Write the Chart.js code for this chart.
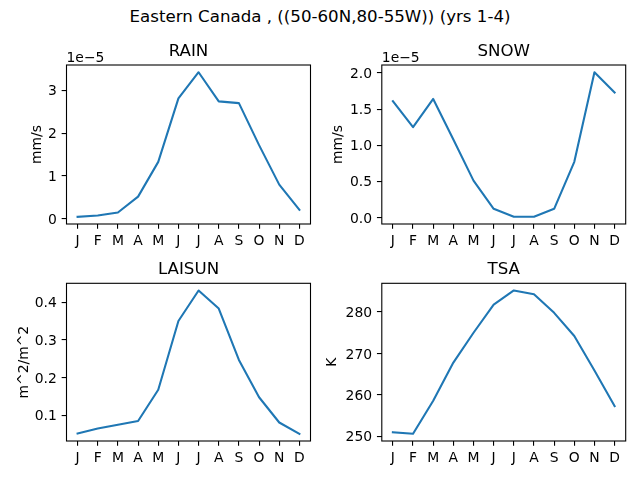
<!DOCTYPE html>
<html><head><meta charset="utf-8">
<script src="https://cdn.jsdelivr.net/npm/chart.js@4.4.1/dist/chart.umd.min.js"></script>
<style>
html,body{margin:0;padding:0;background:#fff;width:640px;height:480px;overflow:hidden}
canvas{position:absolute;left:0;top:0}
#suptitle{position:absolute;left:0;top:6.5px;width:640px;text-align:center;font:16.67px/20px "DejaVu Sans";color:#000;white-space:pre}
</style></head><body>
<div id="suptitle">Eastern Canada , ((50-60N,80-55W)) (yrs 1-4)</div>
<canvas id="cRain" width="640" height="480"></canvas>
<canvas id="cSnow" width="640" height="480"></canvas>
<canvas id="cLai" width="640" height="480"></canvas>
<canvas id="cTsa" width="640" height="480"></canvas>
<script>
// ---- data ----
const months = ['J','F','M','A','M','J','J','A','S','O','N','D'];
// RAIN and SNOW in units of 1e-5 mm/s
const rainValues = [0.05, 0.08, 0.15, 0.52, 1.33, 2.81, 3.42, 2.74, 2.70, 1.72, 0.80, 0.21];
const snowValues = [1.61, 1.25, 1.64, 1.08, 0.51, 0.12, 0.01, 0.01, 0.12, 0.77, 2.01, 1.73];
const laisunValues = [0.052, 0.065, 0.075, 0.085, 0.168, 0.350, 0.431, 0.383, 0.247, 0.148, 0.081, 0.051];
const tsaValues = [251.0, 250.6, 258.6, 267.8, 275.0, 281.8, 285.2, 284.3, 279.8, 274.2, 265.9, 257.3];

const rainTicks = [0, 1, 2, 3];
const rainTickLabels = ['0', '1', '2', '3'];
const snowTicks = [0, 0.5, 1.0, 1.5, 2.0];
const snowTickLabels = ['0.0', '0.5', '1.0', '1.5', '2.0'];
const laisunTicks = [0.1, 0.2, 0.3, 0.4];
const laisunTickLabels = ['0.1', '0.2', '0.3', '0.4'];
const tsaTicks = [250, 260, 270, 280];
const tsaTickLabels = ['250', '260', '270', '280'];

const FONT = 'DejaVu Sans';
const LINE_COLOR = '#1f77b4';

const framePlugin = {
  id: 'frame',
  afterDraw(chart, args, opts) {
    const {ctx, chartArea: a} = chart;
    ctx.save();
    ctx.strokeStyle = '#000';
    ctx.lineWidth = 1.1;
    ctx.strokeRect(a.left, a.top, a.right - a.left, a.bottom - a.top);
    if (opts && opts.offsetText) {
      ctx.fillStyle = '#000';
      ctx.font = '13.9px "' + FONT + '"';
      ctx.textAlign = 'left';
      ctx.textBaseline = 'alphabetic';
      ctx.fillText(opts.offsetText, a.left, a.top - 3.5);
    }
    ctx.restore();
  }
};

function makeChart(id, s) {
  const lo = Math.min(...s.values), hi = Math.max(...s.values);
  const m = (hi - lo) * 0.05;
  const W = 60, H = 30;
  new Chart(document.getElementById(id), {
    type: 'line',
    data: {
      datasets: [{
        data: s.values.map((v, i) => ({x: i, y: v})),
        borderColor: LINE_COLOR,
        borderWidth: 2.08,
        pointRadius: 0,
        tension: 0,
        fill: false,
        borderJoinStyle: 'round',
        borderCapStyle: 'square'
      }]
    },
    options: {
      responsive: false,
      animation: false,
      events: [],
      layout: {padding: {left: s.L - W, right: 640 - s.R, top: s.titleTop, bottom: 480 - s.B - H}},
      plugins: {
        legend: {display: false},
        tooltip: {enabled: false},
        title: {
          display: true, text: s.title, fullSize: false, color: '#000',
          font: {family: FONT, size: 16.67, weight: 'normal', lineHeight: 1.2},
          padding: {top: 0, bottom: s.T - s.titleTop - 20}
        },
        frame: {offsetText: s.offsetText}
      },
      scales: {
        x: {
          type: 'linear', min: -0.55, max: months.length - 1 + 0.55,
          afterBuildTicks: sc => { sc.ticks = months.map((mm, i) => ({value: i})); },
          afterFit: sc => { sc.height = H; },
          grid: {display: true, drawOnChartArea: false, drawTicks: true, tickLength: 4.86, color: '#000', lineWidth: 1.1},
          border: {display: false},
          ticks: {color: '#000', font: {family: FONT, size: 13.9}, padding: 3.9, autoSkip: false, maxRotation: 0,
                  callback: v => months[v]}
        },
        y: {
          type: 'linear', min: lo - m, max: hi + m,
          afterBuildTicks: sc => { sc.ticks = s.ticks.map(v => ({value: v})); },
          afterFit: sc => { sc.width = W; },
          grid: {display: true, drawOnChartArea: false, drawTicks: true, tickLength: 4.86, color: '#000', lineWidth: 1.1},
          border: {display: false},
          ticks: {color: '#000', font: {family: FONT, size: 13.9}, padding: 4.86, labelOffset: 1.5,
                  callback: (v, i) => s.tickLabels[i]},
          title: {display: true, text: s.ylabel, color: '#000', font: {family: FONT, size: 13.9, lineHeight: 1.2},
                  padding: {top: s.ylabelMid - (s.L - W) - 8.34, bottom: 0}}
        }
      }
    },
    plugins: [framePlugin]
  });
}

makeChart('cRain', {title: 'RAIN', values: rainValues, ticks: rainTicks, tickLabels: rainTickLabels,
  ylabel: 'mm/s', offsetText: '1e\u22125', L: 66.5, R: 310.5, T: 65, B: 224, titleTop: 41.75, ylabelMid: 37.3});
makeChart('cSnow', {title: 'SNOW', values: snowValues, ticks: snowTicks, tickLabels: snowTickLabels,
  ylabel: 'mm/s', offsetText: '1e\u22125', L: 381.8, R: 625.7, T: 65, B: 224, titleTop: 41.75, ylabelMid: 338.6});
makeChart('cLai', {title: 'LAISUN', values: laisunValues, ticks: laisunTicks, tickLabels: laisunTickLabels,
  ylabel: 'm^2/m^2', L: 66.5, R: 310.5, T: 283.3, B: 441, titleTop: 260.05, ylabelMid: 23.9});
makeChart('cTsa', {title: 'TSA', values: tsaValues, ticks: tsaTicks, tickLabels: tsaTickLabels,
  ylabel: 'K', L: 381.8, R: 625.7, T: 283.3, B: 441, titleTop: 260.05, ylabelMid: 332.6});
</script>
</body></html>
